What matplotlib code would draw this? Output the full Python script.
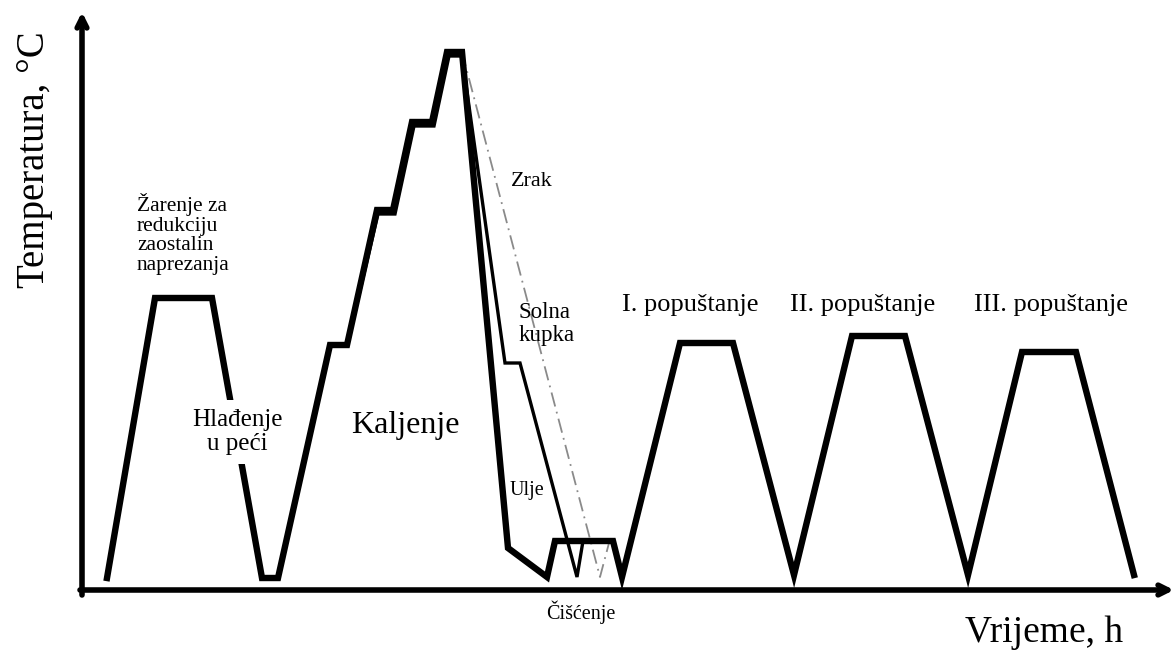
import matplotlib
matplotlib.use("Agg")
import matplotlib.pyplot as plt

# ---- data (time, temperature in arbitrary schematic units) ----
# main curve: annealing -> stepped heating -> oil quench -> cleaning -> 3x tempering
main_t = [25, 73, 130, 180, 196, 248, 265, 295, 311, 330, 350, 365, 380,
          426, 465, 473, 531, 540, 598, 651, 712, 770, 823, 886, 940, 994, 1052]
main_T = [12, 292, 292, 12, 12, 245, 245, 380, 380, 468, 468, 538, 538,
          42, 13, 49, 49, 13, 247, 247, 15, 254, 254, 15, 238, 238, 15]

# second heating trace (slightly offset) + salt bath quench
salt_t = [265, 296, 313, 332, 352, 367, 380, 423, 438, 495, 501]
salt_T = [244, 376, 376, 464, 464, 534, 534, 227, 227, 13, 49]

# air cooling (dash-dot)
air_t = [380, 518, 527]
air_T = [538, 13, 47]

labels = {
    "ylabel": "Temperatura, °C",
    "xlabel": "Vrijeme, h",
    "anneal": "Žarenje za\nredukciju\nzaostalin\nnaprezanja",
    "furnace": "Hlađenje\nu peći",
    "harden": "Kaljenje",
    "air": "Zrak",
    "salt": "Solna\nkupka",
    "oil": "Ulje",
    "clean": "Čišćenje",
    "temper": ["I. popuštanje", "II. popuštanje", "III. popuštanje"],
}

serif = ["Liberation Serif", "DejaVu Serif"]

fig = plt.figure(figsize=(11.76, 6.55), dpi=100)
ax = fig.add_axes([0, 0, 1, 1])
ax.set_xlim(-82, 1094)
ax.set_ylim(-65, 590)
ax.axis("off")

# axes with arrows
ax.annotate("", xy=(0, 578), xytext=(0, -5),
            arrowprops=dict(arrowstyle="->,head_width=0.35,head_length=0.7",
                            lw=4, color="black", shrinkA=0, shrinkB=0))
ax.annotate("", xy=(1092, 0), xytext=(-2, 0),
            arrowprops=dict(arrowstyle="->,head_width=0.35,head_length=0.7",
                            lw=4, color="black", shrinkA=0, shrinkB=0))

ax.plot(air_t, air_T, color="#8a8a8a", lw=1.3, ls=(0, (8, 3, 1, 3)), zorder=2)
ax.plot(salt_t, salt_T, color="black", lw=2.4, solid_joinstyle="miter", zorder=3)
ax.plot(main_t, main_T, color="black", lw=4.6, solid_joinstyle="miter", zorder=4)

txt = dict(family=serif, color="black")
ax.text(-47, 430, labels["ylabel"], rotation=90, ha="center", va="center", fontsize=28, **txt)
ax.text(962, -43, labels["xlabel"], ha="center", va="center", fontsize=27, **txt)
ax.text(55, 356, labels["anneal"], ha="left", va="center", fontsize=15.5,
        linespacing=1.05, **txt)
ax.text(155, 158, labels["furnace"], ha="center", va="center", fontsize=18,
        linespacing=1.15, zorder=6,
        bbox=dict(facecolor="white", edgecolor="none", pad=6), **txt)
ax.text(323, 165, labels["harden"], ha="center", va="center", fontsize=23, **txt)
ax.text(450, 408, labels["air"], ha="center", va="center", fontsize=16, **txt)
ax.text(437, 266, labels["salt"], ha="left", va="center", fontsize=16.5,
        linespacing=1.1, **txt)
ax.text(428, 100, labels["oil"], ha="left", va="center", fontsize=14.5, **txt)
ax.text(499, -22, labels["clean"], ha="center", va="center", fontsize=14.5, **txt)
for lbl, tx in zip(labels["temper"], [608, 781, 969]):
    ax.text(tx, 285, lbl, ha="center", va="center", fontsize=19, **txt)

fig.savefig("out.png", dpi=100, facecolor="white")
